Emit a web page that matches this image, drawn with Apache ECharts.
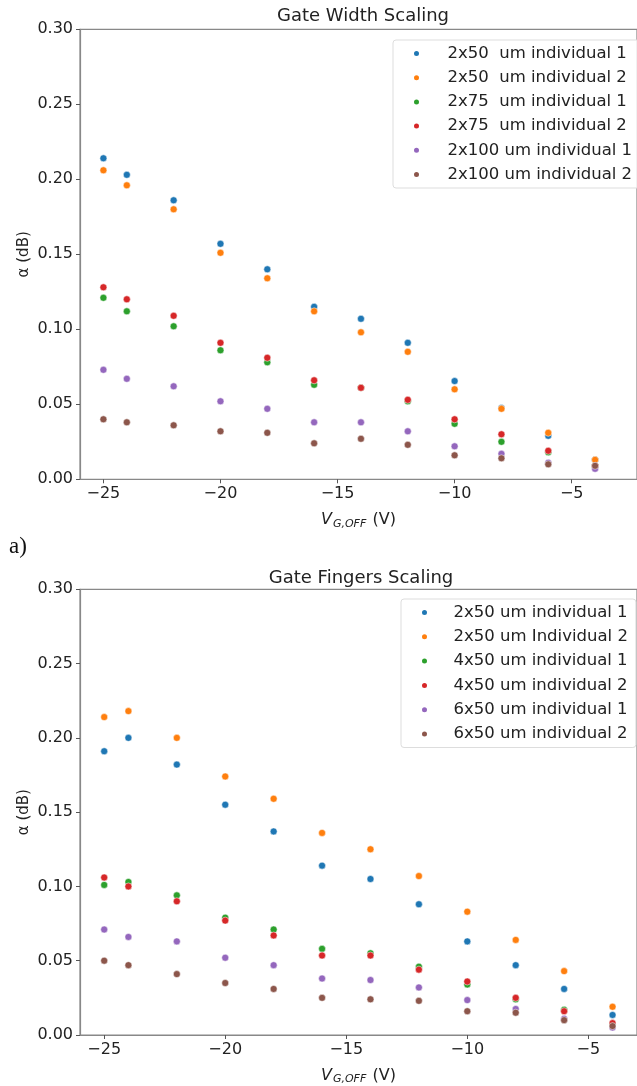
<!DOCTYPE html>
<html>
<head>
<meta charset="utf-8">
<script src="https://cdn.jsdelivr.net/npm/echarts@6/dist/echarts.min.js"></script>
<style>
html,body{margin:0;padding:0;background:#fff;}
#chart{width:637px;height:1086px;}
</style>
</head>
<body>
<div id="chart"></div>
<script>
// ---- data ----
const vgOff = [-25, -24, -22, -20, -18, -16, -14, -12, -10, -8, -6, -4];
const xTicks = [-25, -20, -15, -10, -5];

// Gate Width Scaling
const widthNames = ['2x50  um individual 1', '2x50  um individual 2', '2x75  um individual 1',
                    '2x75  um individual 2', '2x100 um individual 1', '2x100 um individual 2'];
const w50_1  = [0.214, 0.203, 0.186, 0.157, 0.140, 0.115, 0.107, 0.091, 0.0655, 0.0475, 0.029, 0.013];
const w50_2  = [0.206, 0.196, 0.180, 0.151, 0.134, 0.112, 0.098, 0.085, 0.060, 0.047, 0.031, 0.013];
const w75_1  = [0.121, 0.112, 0.102, 0.086, 0.078, 0.063, 0.061, 0.052, 0.037, 0.025, 0.018, 0.009];
const w75_2  = [0.128, 0.120, 0.109, 0.091, 0.081, 0.066, 0.061, 0.053, 0.040, 0.030, 0.019, 0.009];
const w100_1 = [0.073, 0.067, 0.062, 0.052, 0.047, 0.038, 0.038, 0.032, 0.022, 0.017, 0.011, 0.007];
const w100_2 = [0.040, 0.038, 0.036, 0.032, 0.031, 0.024, 0.027, 0.023, 0.016, 0.014, 0.010, 0.009];

// Gate Fingers Scaling
const fingerNames = ['2x50 um individual 1', '2x50 um Individual 2', '4x50 um individual 1',
                     '4x50 um individual 2', '6x50 um individual 1', '6x50 um individual 2'];
const f2_1 = [0.191, 0.200, 0.182, 0.155, 0.137, 0.114, 0.105, 0.088, 0.063, 0.047, 0.031, 0.0135];
const f2_2 = [0.214, 0.218, 0.200, 0.174, 0.159, 0.136, 0.125, 0.107, 0.083, 0.064, 0.043, 0.019];
const f4_1 = [0.101, 0.103, 0.094, 0.079, 0.071, 0.058, 0.055, 0.046, 0.034, 0.024, 0.017, 0.007];
const f4_2 = [0.106, 0.100, 0.090, 0.077, 0.067, 0.0535, 0.0535, 0.044, 0.036, 0.025, 0.016, 0.008];
const f6_1 = [0.071, 0.066, 0.063, 0.052, 0.047, 0.038, 0.037, 0.032, 0.0235, 0.0175, 0.011, 0.005];
const f6_2 = [0.050, 0.047, 0.041, 0.035, 0.031, 0.025, 0.024, 0.023, 0.016, 0.015, 0.010, 0.006];

const colors = ['#1f77b4', '#ff7f0e', '#2ca02c', '#d62728', '#9467bd', '#8c564b'];
const FONT = 'DejaVu Sans';

const widthSeries = [w50_1, w50_2, w75_1, w75_2, w100_1, w100_2];
const fingerSeries = [f2_1, f2_2, f4_1, f4_2, f6_1, f6_2];

function pairs(ys) { return vgOff.map((x, i) => [x, ys[i]]); }

const series = [];
widthSeries.forEach((ys, i) => series.push({
  name: widthNames[i], type: 'scatter', xAxisIndex: 0, yAxisIndex: 0,
  data: pairs(ys), symbolSize: 7,
  itemStyle: { color: colors[i], borderColor: '#fff', borderWidth: 0.5, opacity: 1 },
  emphasis: { disabled: true }
}));
fingerSeries.forEach((ys, i) => series.push({
  name: fingerNames[i], type: 'scatter', xAxisIndex: 1, yAxisIndex: 1,
  data: pairs(ys), symbolSize: 7,
  itemStyle: { color: colors[i], borderColor: '#fff', borderWidth: 0.5, opacity: 1 },
  emphasis: { disabled: true }
}));

const minus = v => String(v).replace('-', '\u2212');

function xAxis(gridIndex, max) {
  return {
    type: 'value', gridIndex, min: -26, max: max,
    axisLine: { show: true, onZero: false, lineStyle: { color: '#888', width: 1.2 } },
    axisTick: { show: true, length: 4, customValues: xTicks, lineStyle: { color: '#555' } },
    axisLabel: { customValues: xTicks, formatter: minus, fontFamily: FONT, fontSize: 16, color: '#222', margin: 7 },
    splitLine: { show: false },
    name: '{v|V}{s|G,OFF} {n|(V)}', nameLocation: 'middle', nameGap: 31,
    nameTextStyle: {
      rich: {
        v: { fontFamily: FONT, fontSize: 16, fontStyle: 'italic', color: '#222' },
        s: { fontFamily: FONT, fontSize: 11, fontStyle: 'italic', color: '#222', padding: [8, 3, 0, 1] },
        n: { fontFamily: FONT, fontSize: 16, color: '#222' }
      }
    }
  };
}
function yAxis(gridIndex) {
  return {
    type: 'value', gridIndex, min: 0, max: 0.3, interval: 0.05,
    axisLine: { show: true, lineStyle: { color: '#888', width: 1.2 } },
    axisTick: { show: true, length: 4, lineStyle: { color: '#555' } },
    axisLabel: { formatter: v => v.toFixed(2), fontFamily: FONT, fontSize: 16, color: '#222', margin: 7 },
    splitLine: { show: false },
    name: '\u03b1 (dB)', nameLocation: 'middle', nameGap: 48, nameRotate: 90,
    nameMoveOverlap: false,
    nameTextStyle: { fontFamily: FONT, fontSize: 15, color: '#222' }
  };
}
function legend(names, left, top, gap, itemW) {
  return {
    data: names, orient: 'vertical', left: left, top: top,
    icon: 'circle', itemWidth: itemW, itemHeight: 7, itemGap: gap,
    padding: [5, 8, 5, 19],
    backgroundColor: 'rgba(255,255,255,0.8)', borderColor: '#ddd', borderWidth: 1, borderRadius: 3,
    textStyle: { fontFamily: FONT, fontSize: 16.5, color: '#222', padding: [0, 0, 0, 7] },
    selectedMode: false
  };
}

const chart = echarts.init(document.getElementById('chart'), null, { renderer: 'canvas' });
chart.setOption({
  animation: false,
  backgroundColor: '#fff',
  title: [
    { text: 'Gate Width Scaling', left: 358, top: 2, textAlign: 'center',
      textStyle: { fontFamily: FONT, fontSize: 18, fontWeight: 'normal', color: '#222' } },
    { text: 'Gate Fingers Scaling', left: 356, top: 564, textAlign: 'center',
      textStyle: { fontFamily: FONT, fontSize: 18, fontWeight: 'normal', color: '#222' } }
  ],
  grid: [
    { left: 80, right: -6, top: 29.3, bottom: 606.7, show: true, borderColor: '#888', borderWidth: 1.2, backgroundColor: 'transparent' },
    { left: 80, right: -6, top: 589.3, bottom: 46.7, show: true, borderColor: '#888', borderWidth: 1.2, backgroundColor: 'transparent' }
  ],
  xAxis: [xAxis(0, -2.21), xAxis(1, -2.99)],
  yAxis: [yAxis(0), yAxis(1)],
  legend: [
    legend(widthNames, 393, 40, 7.2, 38),
    legend(fingerNames, 401, 599, 7.3, 34)
  ],
  graphic: [
    { type: 'text', left: 9, top: 535,
      style: { text: 'a)', fontFamily: 'Liberation Serif', fontSize: 23, fill: '#111' } }
  ],
  series: series
});
</script>
</body>
</html>
